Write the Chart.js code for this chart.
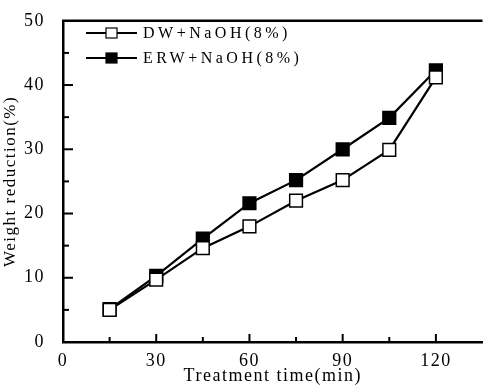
<!DOCTYPE html>
<html>
<head>
<meta charset="utf-8">
<script src="https://cdn.jsdelivr.net/npm/chart.js@4.4.0/dist/chart.umd.min.js"></script>
<style>
  html, body { margin: 0; padding: 0; background: #fff; overflow: hidden; }
  #wrap { width: 493px; height: 387px; }
</style>
</head>
<body>
<div id="wrap"><canvas id="myChart"></canvas></div>
<script>
const times = [15, 30, 45, 60, 75, 90, 105, 120]
const dwNaoh = [5.0, 9.7, 14.6, 18.0, 22.0, 25.2, 29.9, 41.2]
const erwNaoh = [5.1, 10.3, 16.1, 21.6, 25.2, 30.0, 34.9, 42.3]
const xTicks = [0, 30, 60, 90, 120]
const yTicks = [0, 10, 20, 30, 40, 50]
const labels = ["DW+NaOH(8%)", "ERW+NaOH(8%)"]

const serif = "'Liberation Serif', 'DejaVu Serif', serif"

function pts(ys) {
    return times.map((t, i) => ({x: t, y: ys[i]}))
}

// inward ticks, top frame line and the in-plot legend
const framePlugin = {
    id: 'frame',
    beforeDraw(chart) {
        chart.ctx.letterSpacing = '1.5px'
    },
    afterDraw(chart) {
        const ctx = chart.ctx
        const a = chart.chartArea
        const xs = chart.scales.x
        const ys = chart.scales.y
        ctx.save()
        ctx.strokeStyle = '#000'
        ctx.lineWidth = 2.5
        ctx.beginPath()
        ctx.moveTo(a.left - 1, a.top)
        ctx.lineTo(a.right, a.top)
        ctx.stroke()

        ctx.lineWidth = 2
        for (let v = 15; v <= 120; v += 15) {
            const px = xs.getPixelForValue(v)
            const len = v % 30 === 0 ? 8 : 5
            ctx.beginPath()
            ctx.moveTo(px, a.bottom)
            ctx.lineTo(px, a.bottom - len)
            ctx.stroke()
        }
        for (let v = 5; v <= 45; v += 5) {
            const py = ys.getPixelForValue(v)
            const len = v % 10 === 0 ? 10 : 6
            ctx.beginPath()
            ctx.moveTo(a.left, py)
            ctx.lineTo(a.left + len, py)
            ctx.stroke()
        }

        // legend
        const rows = [33, 58]
        ctx.font = '16px ' + serif
        ctx.letterSpacing = '3.5px'
        ctx.textBaseline = 'middle'
        ctx.fillStyle = '#000'
        chart.data.datasets.forEach((ds, i) => {
            const y = rows[i]
            ctx.lineWidth = 2
            ctx.strokeStyle = '#000'
            ctx.beginPath()
            ctx.moveTo(86, y)
            ctx.lineTo(137, y)
            ctx.stroke()
            ctx.fillStyle = ds.pointBackgroundColor
            ctx.fillRect(106, y - 5, 11, 10)
            ctx.lineWidth = 1.2
            ctx.strokeRect(106, y - 5, 11, 10)
            ctx.fillStyle = '#000'
            ctx.fillText(labels[i], 143, y + 1)
        })
        ctx.restore()
    }
}

const ctx = document.getElementById('myChart').getContext('2d')

const data = {
    datasets: [{
        label: labels[0],
        data: pts(dwNaoh),
        borderColor: '#000',
        borderWidth: 2.2,
        pointStyle: 'rect',
        pointRadius: 9,
        pointBorderWidth: 1.5,
        pointBorderColor: '#000',
        pointBackgroundColor: '#fff',
        tension: 0
    }, {
        label: labels[1],
        data: pts(erwNaoh),
        borderColor: '#000',
        borderWidth: 2.2,
        pointStyle: 'rect',
        pointRadius: 9,
        pointBorderWidth: 1.5,
        pointBorderColor: '#000',
        pointBackgroundColor: '#000',
        tension: 0
    }]
}

const config = {
    type: 'line',
    data: data,
    options: {
        responsive: true,
        maintainAspectRatio: false,
        animation: false,
        layout: { padding: { top: 15, right: 0, left: 0, bottom: 0 } },
        plugins: {
            legend: { display: false },
            tooltip: { enabled: false }
        },
        scales: {
            x: {
                type: 'linear',
                min: 0,
                max: 135,
                afterBuildTicks: (s) => { s.ticks = xTicks.map(v => ({value: v})) },
                afterFit: (s) => { s.height = 45 },
                grid: { display: false },
                border: { display: true, color: '#000', width: 2.5 },
                ticks: {
                    color: '#000',
                    font: { family: serif, size: 18 },
                    padding: 0,
                    maxRotation: 0
                },
                title: {
                    display: true,
                    text: 'Treatment time(min)',
                    color: '#000',
                    font: { family: serif, size: 18 },
                    padding: { top: -4, bottom: 0 }
                }
            },
            y: {
                min: 0,
                max: 50,
                afterBuildTicks: (s) => { s.ticks = yTicks.map(v => ({value: v})) },
                afterFit: (s) => { s.width = 63 },
                grid: { display: false },
                border: { display: true, color: '#000', width: 2.5 },
                ticks: {
                    color: '#000',
                    font: { family: serif, size: 18 },
                    padding: 10
                },
                title: {
                    display: true,
                    text: 'Weight reduction(%)',
                    color: '#000',
                    font: { family: serif, size: 17 },
                    padding: { top: 0, bottom: 0 }
                }
            }
        }
    },
    plugins: [framePlugin]
}

const myChart = new Chart(ctx, config)
</script>
</body>
</html>
